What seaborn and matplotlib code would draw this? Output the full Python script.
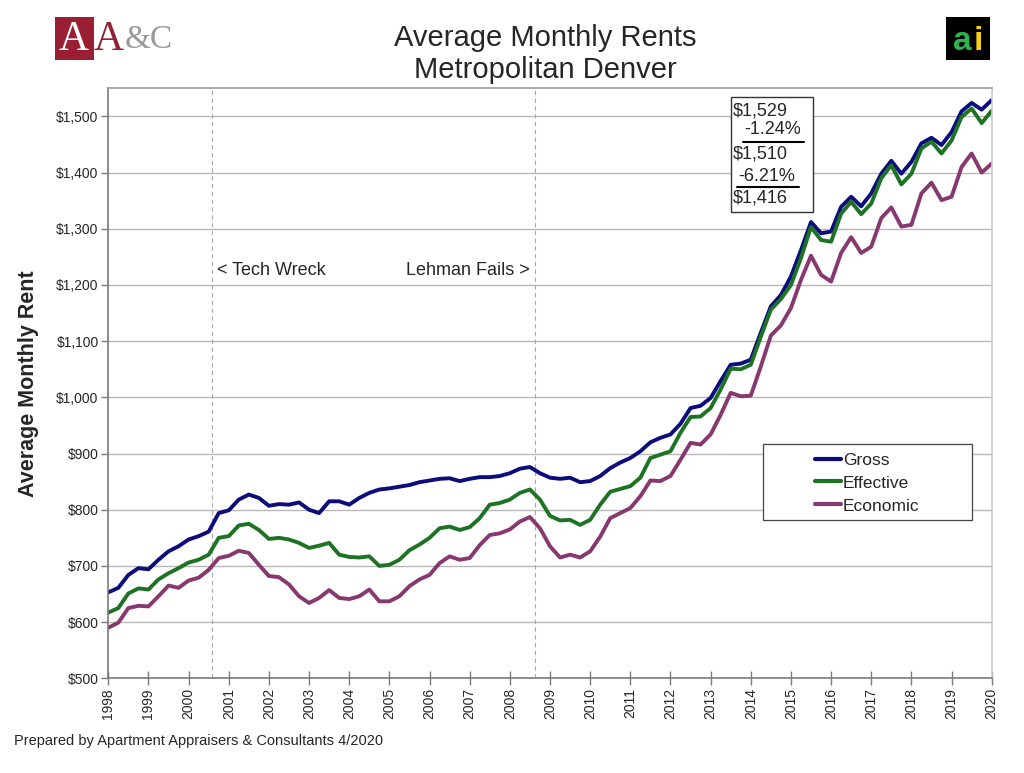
"""Average Monthly Rents - Metropolitan Denver (quarterly, 1998-2020)."""
import matplotlib
matplotlib.use("Agg")
import pandas as pd
import matplotlib.pyplot as plt
import seaborn as sns
from matplotlib.lines import Line2D
from matplotlib.patches import Rectangle
from matplotlib.ticker import FuncFormatter, MultipleLocator

sns.set_theme(style="ticks")
plt.rcParams["font.family"] = ["Liberation Sans", "DejaVu Sans"]

# quarterly readings, 1998 Q1 .. 2020 Q1
quarters = pd.period_range("1998Q1", "2020Q1", freq="Q")

gross = [
    653, 661, 684, 696, 694, 711, 726, 735, 747, 753, 761, 794,
    799, 818, 827, 821, 807, 810, 809, 813, 800, 794, 815, 815,
    809, 821, 830, 836, 838, 841, 844, 849, 852, 855, 856, 851,
    855, 858, 858, 860, 865, 873, 876, 865, 857, 855, 857, 849,
    851, 860, 874, 884, 892, 904, 920, 928, 934, 953, 981, 985,
    999, 1029, 1058, 1060, 1067, 1115, 1162, 1182, 1215, 1262, 1312, 1292,
    1295, 1339, 1357, 1340, 1363, 1398, 1421, 1398, 1419, 1452, 1462, 1449,
    1472, 1509, 1524, 1512, 1529,
]
effective = [
    617, 625, 651, 660, 658, 676, 687, 696, 706, 711, 720, 750,
    753, 772, 775, 764, 748, 750, 747, 741, 732, 736, 741, 720,
    716, 715, 717, 700, 702, 711, 728, 738, 750, 767, 770, 764,
    769, 785, 809, 812, 818, 830, 836, 818, 789, 781, 782, 773,
    782, 809, 832, 837, 842, 857, 892, 898, 904, 937, 965, 966,
    981, 1014, 1051, 1050, 1058, 1108, 1156, 1175, 1200, 1248, 1303, 1280,
    1277, 1327, 1348, 1326, 1345, 1390, 1413, 1379, 1398, 1443, 1455, 1434,
    1457, 1499, 1514, 1488, 1510,
]
economic = [
    590, 599, 625, 629, 628, 646, 665, 661, 674, 679, 693, 714,
    718, 727, 723, 702, 682, 680, 667, 646, 634, 643, 657, 643,
    641, 646, 658, 637, 637, 646, 664, 676, 684, 705, 717, 711,
    714, 737, 755, 758, 765, 779, 787, 767, 735, 715, 720, 715,
    726, 752, 785, 794, 803, 824, 852, 851, 860, 889, 919, 916,
    934, 969, 1008, 1002, 1003, 1055, 1110, 1128, 1159, 1209, 1252, 1218,
    1206, 1257, 1285, 1257, 1268, 1319, 1338, 1304, 1307, 1363, 1382, 1351,
    1357, 1410, 1434, 1400, 1416,
]

series_names = ["Gross", "Effective", "Economic"]
colors = {"Gross": "#0c0c7c", "Effective": "#1d7223", "Economic": "#86386f"}
events = {"Tech Wreck": 2000.58, "Lehman Fails": 2008.63}
box_lines = ["$1,529", "-1.24%", "$1,510", "-6.21%", "$1,416"]

df = pd.DataFrame({
    "year": quarters.year + (quarters.quarter - 1) / 4,
    "Gross": gross,
    "Effective": effective,
    "Economic": economic,
})
long = df.melt(id_vars="year", var_name="series", value_name="rent")

W, H = 1024, 773
fig = plt.figure(figsize=(W / 100, H / 100), dpi=100)
ax = fig.add_axes([108.3 / W, 1 - 678.3 / H, 883.4 / W, 590 / H])

sns.lineplot(data=long, x="year", y="rent", hue="series", hue_order=series_names,
             palette=colors, linewidth=2.8, ax=ax, legend=False, sort=False)
for ln in ax.get_lines():
    ln.set_solid_joinstyle("round")
    ln.set_solid_capstyle("round")

ax.set_xlim(1998, 2020)
ax.set_ylim(500, 1550)
ax.xaxis.set_major_locator(MultipleLocator(1))
ax.yaxis.set_major_locator(MultipleLocator(100))
ax.xaxis.set_major_formatter(FuncFormatter(lambda v, p: f"{int(v)}"))
ax.yaxis.set_major_formatter(FuncFormatter(lambda v, p: f"${v:,.0f}"))
ax.tick_params(axis="x", direction="inout", length=10, width=1, color="#7a7a7a",
               labelsize=10, labelrotation=90, pad=2)
ax.tick_params(axis="y", direction="out", length=5, width=1, color="#7a7a7a",
               labelsize=10, pad=2)
ax.grid(axis="y", color="#b8b8b8", linewidth=1)
ax.set_axisbelow(True)
for side, c in [("left", "#7a7a7a"), ("bottom", "#7a7a7a"), ("top", "#9a9a9a"), ("right", "#cccccc")]:
    ax.spines[side].set_visible(True)
    ax.spines[side].set_color(c)
    ax.spines[side].set_linewidth(1.2)

ax.set_xlabel("")
ax.set_ylabel("Average Monthly Rent", fontsize=15.5, fontweight="bold", labelpad=12)

# event markers
for name, yr in events.items():
    ax.axvline(yr, color="#a8a8a8", linestyle=(0, (4, 3)), linewidth=0.8, zorder=1)
ax.text(events["Tech Wreck"] + 0.13, 1225, "< Tech Wreck", fontsize=13, va="center", ha="left")
ax.text(events["Lehman Fails"] - 0.13, 1225, "Lehman Fails >", fontsize=13, va="center", ha="right")

# legend: frame drawn as a wider box like the original
ax.add_patch(Rectangle(((763 - 108.3) / 883.4, (678.3 - 520) / 590), 209 / 883.4, 76 / 590,
                       transform=ax.transAxes, facecolor="white", edgecolor="#444444",
                       linewidth=0.9, zorder=4))
handles = [Line2D([0], [0], color=colors[n], linewidth=3) for n in series_names]
leg = ax.legend(handles, series_names, loc="center left",
                bbox_to_anchor=((803 - 108.3) / 883.4, (678.3 - 483) / 590),
                fontsize=12.5, handlelength=1.5, handletextpad=0.1, labelspacing=0.45,
                borderpad=0.2, frameon=False)
leg.set_zorder(5)

# titles
fig.text(545 / W, 1 - 38 / H, "Average Monthly Rents", fontsize=21, ha="center", va="center")
fig.text(545 / W, 1 - 70 / H, "Metropolitan Denver", fontsize=21, ha="center", va="center")

# value box
fig.add_artist(Rectangle((731 / W, 1 - 211.7 / H), 81.7 / W, 115 / H, transform=fig.transFigure,
                         facecolor="white", edgecolor="#333333", linewidth=1))
box_pos = [(733, 110.7), (744, 129), (733, 154), (738, 176.5), (733, 198)]
for txt, (px, py) in zip(box_lines, box_pos):
    fig.text(px / W, 1 - py / H, txt, fontsize=13, ha="left", va="center")
for x0, x1, py in [(742.7, 804, 142), (736.7, 799, 187)]:
    fig.add_artist(Line2D([x0 / W, x1 / W], [1 - py / H, 1 - py / H], transform=fig.transFigure,
                          color="black", linewidth=1.5))

# logos
fig.add_artist(Rectangle((55 / W, 1 - 60 / H), 39 / W, 43 / H, transform=fig.transFigure,
                         facecolor="#9b1f33", edgecolor="none"))
fig.text(74 / W, 1 - 40 / H, "A", family="Liberation Serif", fontsize=30, color="white",
         ha="center", va="center")
fig.text(94 / W, 1 - 40 / H, "A", family="Liberation Serif", fontsize=30, color="#8e2232",
         ha="left", va="center")
fig.text(125 / W, 1 - 40 / H, "&C", family="Liberation Serif", fontsize=24, color="#9a9a9a",
         ha="left", va="center")
fig.add_artist(Rectangle((946 / W, 1 - 60 / H), 44 / W, 43 / H, transform=fig.transFigure,
                         facecolor="black", edgecolor="none"))
fig.text(962 / W, 1 - 41 / H, "a", fontsize=24, fontweight="bold", color="#2fb34a",
         ha="center", va="center")
fig.text(978 / W, 1 - 41 / H, "i", fontsize=24, fontweight="bold", color="#f2d21b",
         ha="center", va="center")

fig.text(14 / W, 1 - 741 / H, "Prepared by Apartment Appraisers & Consultants 4/2020",
         fontsize=10.5, ha="left", va="center")

fig.savefig("out.png", dpi=100)
